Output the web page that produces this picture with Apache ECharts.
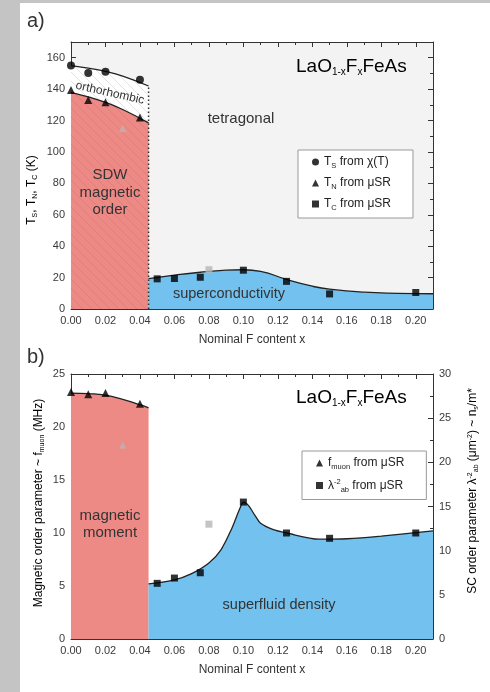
<!DOCTYPE html>
<html><head><meta charset="utf-8">
<script src="https://cdn.jsdelivr.net/npm/echarts@6/dist/echarts.min.js"></script>
<style>
html,body{margin:0;padding:0;background:#c4c4c4;width:490px;height:692px;overflow:hidden}
#c{position:absolute;left:20px;top:3px;width:470px;height:689px;background:#fff}
</style></head><body><div id="c"></div>
<script>
// ---- data: panel a ----
const tsPoints = [[0,155],[0.01,150.3],[0.02,151],[0.04,146]];
const tnPoints = [[0,139.4],[0.01,133],[0.02,131.7],[0.04,122]];
const tcPoints = [[0.05,19.2],[0.06,19.4],[0.075,20.2],[0.10,24.7],[0.125,17.6],[0.15,9.6],[0.20,10.5]];
const tsCurve = [[0,155],[0.01,153.3],[0.02,151.3],[0.03,148.3],[0.045,142]];
const tnCurve = [[0,138],[0.01,135],[0.02,131.6],[0.03,127],[0.045,118.5]];
const tcCurve = [[0.045,19.4],[0.06,21.6],[0.075,23.4],[0.09,24.7],[0.10,25],[0.11,24],[0.125,18.8],[0.14,14.5],[0.15,12.6],[0.17,10.7],[0.19,10],[0.21,9.7]];
const grayA = [[0.03,115,'triangle'],[0.08,25,'rect']];
const sdwEdge = [[0.045,0],[0.045,142]];
// ---- data: panel b ----
const fPoints = [[0,23.3],[0.01,23.1],[0.02,23.2],[0.04,22.2]];
const fCurve = [[0,23.2],[0.01,23.15],[0.02,23.0],[0.03,22.6],[0.04,22.1],[0.045,21.8]];
const lamPoints = [[0.05,6.3],[0.06,6.9],[0.075,7.5],[0.10,15.5],[0.125,12.0],[0.15,11.4],[0.20,12.0]];
const lamCurve = [[0.045,6.24],[0.06,6.7],[0.07,7.4],[0.08,8.6],[0.087,10.1],[0.093,12.4],[0.098,14.8],[0.10,15.5],[0.103,15.1],[0.107,13.9],[0.11,13.1],[0.117,12.4],[0.125,12.0],[0.144,11.3],[0.16,11.35],[0.18,11.65],[0.21,12.25]];
const grayF = [[0.03,18.3]];
const grayLam = [[0.08,13.0]];

const FONT = 'Liberation Sans, Arial, sans-serif';
const RED = '#ee8a86', BLUE = '#72c1ee';
function hatch(bg, line, s){
  const c = document.createElement('canvas'); c.width = s; c.height = s;
  const g = c.getContext('2d'); g.fillStyle = bg; g.fillRect(0,0,s,s);
  g.strokeStyle = line; g.lineWidth = 1;
  for (const k of [-s,0,s]) { g.beginPath(); g.moveTo(k,0); g.lineTo(k+s,s); g.stroke(); }
  return {image: c, repeat: 'repeat'};
}
const chart = echarts.init(document.getElementById('c'), null, {renderer:'canvas'});
const axLine = {lineStyle:{color:'#333',width:1}};
function xAx(grid, pos, labels){
  return {type:'value', gridIndex:grid, position:pos, min:0, max:0.21, interval:0.02,
    axisLine:Object.assign({onZero:false},axLine), axisTick:{inside:true,length:5,lineStyle:{color:'#333'}},
    minorTick:{show:true,splitNumber:2,length:3,lineStyle:{color:'#333'}},
    splitLine:{show:false}, axisLabel:{show:labels, showMaxLabel:false, fontSize:11, color:'#3a3a3a', fontFamily:FONT, margin:6,
      formatter:v=>v.toFixed(2)}};
}
function yAx(grid, pos, max, interval, labels){
  return {type:'value', gridIndex:grid, position:pos, min:0, max:max, interval:interval,
    axisLine:Object.assign({onZero:false},axLine), axisTick:{inside:true,length:5,lineStyle:{color:'#333'}},
    minorTick:{show:true,splitNumber:2,length:3,lineStyle:{color:'#333'}},
    splitLine:{show:false}, axisLabel:{show:labels, showMaxLabel: max%interval===0, fontSize:11, color:'#3a3a3a', fontFamily:FONT, margin:6}};
}
const richBase = {
  n:{fontSize:12,fontFamily:FONT,color:'#222'},
  s:{fontSize:7.5,fontFamily:FONT,color:'#222',padding:[8,0,0,0]},
  p:{fontSize:7.5,fontFamily:FONT,color:'#222',padding:[0,0,7,0]}
};
const legNames = {
  Ts:'{n|T}{s|S}{n| from χ(T)}', TN:'{n|T}{s|N}{n| from μSR}', Tc:'{n|T}{s|C}{n| from μSR}',
  fm:'{n|f}{s|muon}{n| from μSR}', lam:'{n|λ}{p|-2}{s|ab}{n| from μSR}'
};
function legend(left, top, data, gap){
  return {orient:'vertical', left:left, top:top, itemWidth:7, itemHeight:7, itemGap:gap,
    padding:[6,22,6,14], borderColor:'#999', borderWidth:1, backgroundColor:'#fff',
    data:data, formatter:n=>legNames[n], textStyle:{rich:richBase}, selectedMode:false};
}
const lab = (t,x,y,fs,extra)=>Object.assign({type:'text', x:x, y:y, style:Object.assign({text:t, fontSize:fs, fontFamily:FONT, fill:'#333', align:'center', verticalAlign:'middle'}, extra&&extra.style||{})}, extra&&extra.el||{});
const formulaRich = {
  n:{fontSize:19,fontFamily:FONT,color:'#333'},
  s:{fontSize:10,fontFamily:FONT,color:'#333',padding:[10,0,0,0]}
};
const formula = '{n|LaO}{s|1-x}{n|F}{s|x}{n|FeAs}';
const titleRich = {
  n:{fontSize:12,fontFamily:FONT,color:'#333'},
  s:{fontSize:7,fontFamily:FONT,color:'#333',padding:[7,0,0,0]},
  p:{fontSize:7,fontFamily:FONT,color:'#333',padding:[0,0,6,0]}
};
const sym = 7;
chart.setOption({
  animation:false,
  backgroundColor:'#fff',
  grid:[{left:51,right:57,top:39,height:267,show:true,backgroundColor:'#f3f3f3',borderWidth:0},
        {left:51,right:57,top:371,height:265,show:false}],
  xAxis:[xAx(0,'bottom',true), xAx(0,'top',false), xAx(1,'bottom',true), xAx(1,'top',false)],
  yAxis:[yAx(0,'left',170,20,true), yAx(0,'right',170,20,false), yAx(1,'left',25,5,true), yAx(1,'right',30,5,true)],
  legend:[legend(278,147,[{name:'Ts',icon:'circle'},{name:'TN',icon:'triangle'},{name:'Tc',icon:'rect'}],7),
          legend(282,448,[{name:'fm',icon:'triangle'},{name:'lam',icon:'rect'}],7)],
  series:[
    {type:'line', xAxisIndex:0, yAxisIndex:0, data:tsCurve, smooth:true, showSymbol:false, z:2,
     lineStyle:{color:'#222',width:1.3}, areaStyle:{color:hatch('#ffffff','#e4e4e4',9),opacity:1}},
    {type:'line', xAxisIndex:0, yAxisIndex:0, data:tnCurve, smooth:true, showSymbol:false, z:3,
     lineStyle:{color:'#222',width:1.3}, areaStyle:{color:hatch(RED,'#df7f7b',9),opacity:1}},
    {type:'line', xAxisIndex:0, yAxisIndex:0, data:tcCurve, smooth:0.5, showSymbol:false, z:3,
     lineStyle:{color:'#222',width:1.3}, areaStyle:{color:BLUE,opacity:1}},
    {type:'line', xAxisIndex:0, yAxisIndex:0, data:sdwEdge, showSymbol:false, z:4,
     lineStyle:{color:'#333',width:1.5,type:[1.5,2.5]}},
    {name:'Ts', type:'scatter', xAxisIndex:0, yAxisIndex:0, data:tsPoints, symbol:'circle', symbolSize:8, itemStyle:{color:'#000'}, z:6},
    {name:'TN', type:'scatter', xAxisIndex:0, yAxisIndex:0, data:tnPoints, symbol:'triangle', symbolSize:8, itemStyle:{color:'#000'}, z:6},
    {name:'Tc', type:'scatter', xAxisIndex:0, yAxisIndex:0, data:tcPoints, symbol:'rect', symbolSize:sym, itemStyle:{color:'#000'}, z:6},
    {type:'scatter', xAxisIndex:0, yAxisIndex:0, data:grayA.map(d=>({value:[d[0],d[1]],symbol:d[2]})), symbolSize:7, itemStyle:{color:'#b5b5b5'}, z:6},
    // panel b
    {type:'line', xAxisIndex:2, yAxisIndex:2, data:fCurve, smooth:true, showSymbol:false, z:3,
     lineStyle:{color:'#222',width:1.3}, areaStyle:{color:RED,opacity:1}},
    {type:'line', xAxisIndex:2, yAxisIndex:3, data:lamCurve, smooth:0.3, showSymbol:false, z:3,
     lineStyle:{color:'#222',width:1.3}, areaStyle:{color:BLUE,opacity:1}},
    {name:'fm', type:'scatter', xAxisIndex:2, yAxisIndex:2, data:fPoints, symbol:'triangle', symbolSize:8, itemStyle:{color:'#000'}, z:6},
    {name:'lam', type:'scatter', xAxisIndex:2, yAxisIndex:3, data:lamPoints, symbol:'rect', symbolSize:sym, itemStyle:{color:'#000'}, z:6},
    {type:'scatter', xAxisIndex:2, yAxisIndex:2, data:grayF, symbol:'triangle', symbolSize:7, itemStyle:{color:'#b5b5b5'}, z:6},
    {type:'scatter', xAxisIndex:2, yAxisIndex:3, data:grayLam, symbol:'rect', symbolSize:7, itemStyle:{color:'#b5b5b5'}, z:6}
  ],
  graphic:[
    lab('a)',7,18,20,{style:{align:'left'}}),
    lab('b)',7,354,20,{style:{align:'left'}}),
    {type:'text', x:276, y:64, style:{text:formula, rich:formulaRich, align:'left', verticalAlign:'middle'}, z:10},
    {type:'text', x:276, y:395, style:{text:formula, rich:formulaRich, align:'left', verticalAlign:'middle'}, z:10},
    lab('tetragonal',221,116,15,{el:{z:10}}),
    lab('orthorhombic',90,90,12,{el:{rotation:-0.22,z:10}}),
    lab('SDW',90,172,15,{el:{z:10}}), lab('magnetic',90,190,15,{el:{z:10}}), lab('order',90,207,15,{el:{z:10}}),
    lab('superconductivity',209,291,14.5,{el:{z:10}}),
    lab('magnetic',90,513,15,{el:{z:10}}), lab('moment',90,530,15,{el:{z:10}}),
    lab('superfluid density',259,602,14.5,{el:{z:10}}),
    lab('Nominal F content x',232,337,12),
    lab('Nominal F content x',232,667,12),
    {type:'text', x:12, y:187, rotation:Math.PI/2, style:{text:'{n|T}{s|S}{n|, T}{s|N}{n|, T}{s|C}{n| (K)}', rich:titleRich, align:'center', verticalAlign:'middle'}},
    {type:'text', x:19, y:500, rotation:Math.PI/2, style:{text:'{n|Magnetic order parameter ~ f}{s|muon}{n| (MHz)}', rich:titleRich, align:'center', verticalAlign:'middle'}},
    {type:'text', x:453, y:488, rotation:Math.PI/2, style:{text:'{n|SC order parameter λ}{p|-2}{s|ab}{n| (μm}{p|-2}{n|) ~ n}{s|s}{n|/m*}', rich:titleRich, align:'center', verticalAlign:'middle'}}
  ]
});
</script></body></html>
